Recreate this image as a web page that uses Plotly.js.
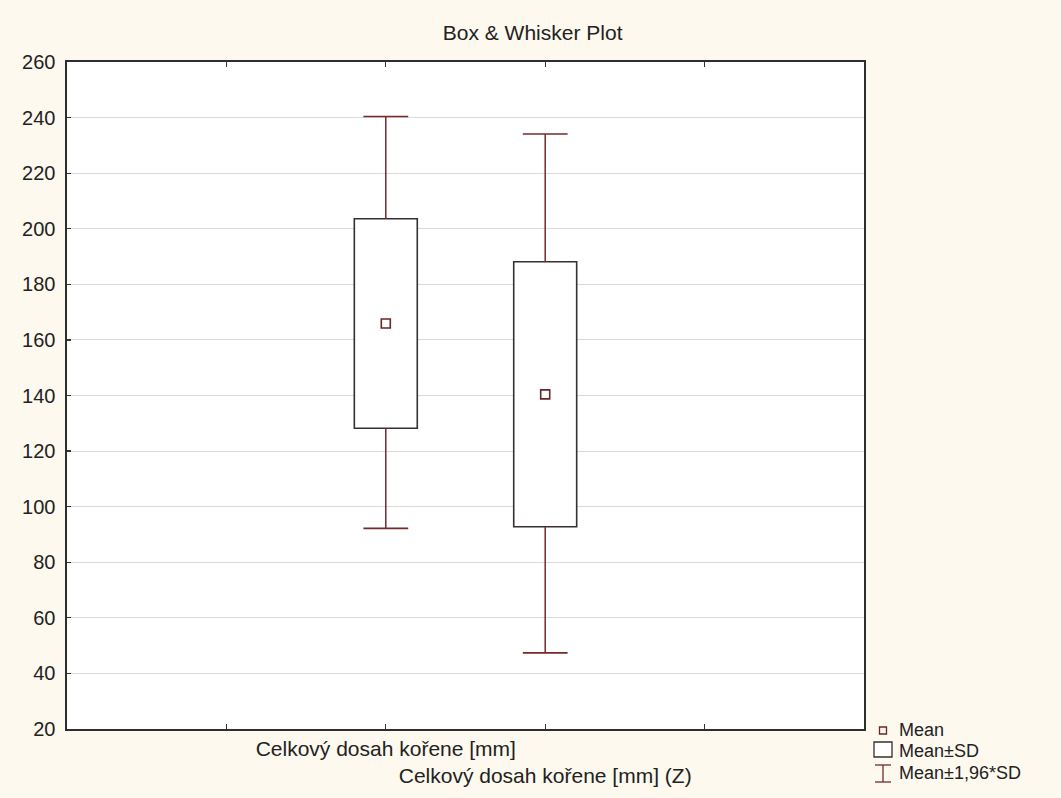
<!DOCTYPE html>
<html>
<head>
<meta charset="utf-8">
<script src="https://cdn.plot.ly/plotly-3.0.1.min.js"></script>
<style>html,body{margin:0;padding:0;background:#fdf9ee;}#chart{width:1061px;height:798px;}</style>
</head>
<body>
<div id="chart"></div>
<script>
// ---- data ----
var categories = ['Celkový dosah kořene [mm]', 'Celkový dosah kořene [mm] (Z)'];
var meanValues = [165.9, 140.4];
var sdLower = [128.2, 92.8];      // Mean - SD
var sdUpper = [203.6, 188.1];     // Mean + SD
var whiskerLower = [92.2, 47.4];  // Mean - 1.96*SD
var whiskerUpper = [240.4, 234.1];// Mean + 1.96*SD
var legendLabels = ['Mean', 'Mean±SD', 'Mean±1,96*SD'];
var chartTitle = 'Box & Whisker Plot';
var yTickValues = [20, 40, 60, 80, 100, 120, 140, 160, 180, 200, 220, 240, 260];

// ---- styling ----
var FONT = 'Liberation Sans, Arial, sans-serif';
var boxLine = '#363030';
var whiskerColor = '#752a2a';
var meanColor = '#6a2626';

// category axis with empty slots on both sides (ticks at 4 positions)
var catArray = [' '].concat(categories).concat(['  ']);
var tickText = ['', categories[0], '<br>' + categories[1], ''];

var stemX = [], stemY = [];
for (var i = 0; i < categories.length; i++) {
  stemX.push(categories[i], categories[i], null, categories[i], categories[i], null);
  stemY.push(sdUpper[i], whiskerUpper[i], null, sdLower[i], whiskerLower[i], null);
}
var capX = categories.concat(categories);
var capY = whiskerUpper.concat(whiskerLower);

var traces = [
  {
    type: 'bar', x: categories, base: sdLower,
    y: sdUpper.map(function (v, k) { return v - sdLower[k]; }),
    width: 0.395,
    marker: { color: '#ffffff', line: { color: boxLine, width: 1.6 } },
    showlegend: false, hoverinfo: 'skip'
  },
  {
    type: 'scatter', mode: 'lines', x: stemX, y: stemY,
    line: { color: whiskerColor, width: 1.5 },
    showlegend: false, hoverinfo: 'skip', connectgaps: false
  },
  {
    type: 'scatter', mode: 'markers', x: capX, y: capY,
    marker: { symbol: 'line-ew', size: 32, line: { color: whiskerColor, width: 1.6 } },
    showlegend: false, hoverinfo: 'skip'
  },
  {
    type: 'scatter', mode: 'markers', x: categories, y: meanValues,
    marker: { symbol: 'square-open', size: 9, color: meanColor, line: { color: meanColor, width: 1.6 } },
    showlegend: false
  }
];

// legend drawn with shapes/annotations (pixel -> paper conversion)
var L = 67, R = 864, T = 62, B = 729;
function PX(px) { return (px - L) / (R - L); }
function PY(py) { return (B - py) / (B - T); }

var shapes = [
  { type: 'rect', xref: 'paper', yref: 'paper', x0: PX(879.5), x1: PX(886.5), y0: PY(734), y1: PY(727),
    line: { color: meanColor, width: 1.3 }, fillcolor: 'rgba(0,0,0,0)' },
  { type: 'rect', xref: 'paper', yref: 'paper', x0: PX(874), x1: PX(892), y0: PY(757), y1: PY(742),
    line: { color: boxLine, width: 1.3 }, fillcolor: '#ffffff' },
  { type: 'line', xref: 'paper', yref: 'paper', x0: PX(883), x1: PX(883), y0: PY(765), y1: PY(782),
    line: { color: whiskerColor, width: 1.3 } },
  { type: 'line', xref: 'paper', yref: 'paper', x0: PX(875), x1: PX(891), y0: PY(765), y1: PY(765),
    line: { color: whiskerColor, width: 1.3 } },
  { type: 'line', xref: 'paper', yref: 'paper', x0: PX(875), x1: PX(891), y0: PY(782), y1: PY(782),
    line: { color: whiskerColor, width: 1.3 } }
];
var legendY = [730, 751, 773];
var annotations = legendLabels.map(function (t, k) {
  return { text: t, xref: 'paper', yref: 'paper', x: PX(897), y: PY(legendY[k]),
    xanchor: 'left', yanchor: 'middle', showarrow: false,
    font: { family: FONT, size: 18, color: '#222' } };
});

var layout = {
  width: 1061, height: 798,
  margin: { l: L, r: 1061 - R, t: T, b: 798 - B },
  paper_bgcolor: '#fdf9ee', plot_bgcolor: '#ffffff',
  font: { family: FONT, size: 20, color: '#222' },
  title: { text: chartTitle, x: 0.502, xref: 'container', y: 1 - 33 / 798, yref: 'container',
    xanchor: 'center', yanchor: 'middle', font: { family: FONT, size: 21, color: '#222' } },
  showlegend: false,
  xaxis: {
    type: 'category', categoryorder: 'array', categoryarray: catArray,
    range: [-1, 4], tickmode: 'array', tickvals: catArray, ticktext: tickText,
    tickangle: 0, automargin: false,
    ticks: 'inside', ticklen: 5, tickwidth: 1.2, tickcolor: '#333',
    showline: true, linecolor: '#2e2e2e', linewidth: 1.6, mirror: 'ticks',
    showgrid: false, zeroline: false, fixedrange: true,
    tickfont: { family: FONT, size: 21, color: '#222' }
  },
  yaxis: {
    range: [20, 260], tickmode: 'array', tickvals: yTickValues,
    ticks: 'inside', ticklen: 4, tickwidth: 1.2, tickcolor: '#333',
    showline: true, linecolor: '#2e2e2e', linewidth: 1.6, mirror: true,
    showgrid: true, gridcolor: '#d9d9d9', gridwidth: 1, zeroline: false,
    ticklabelstandoff: 6, fixedrange: true, automargin: false,
    tickfont: { family: FONT, size: 20, color: '#222' }
  },
  shapes: shapes,
  annotations: annotations
};

Plotly.newPlot('chart', traces, layout, { staticPlot: true, displayModeBar: false });
</script>
</body>
</html>
